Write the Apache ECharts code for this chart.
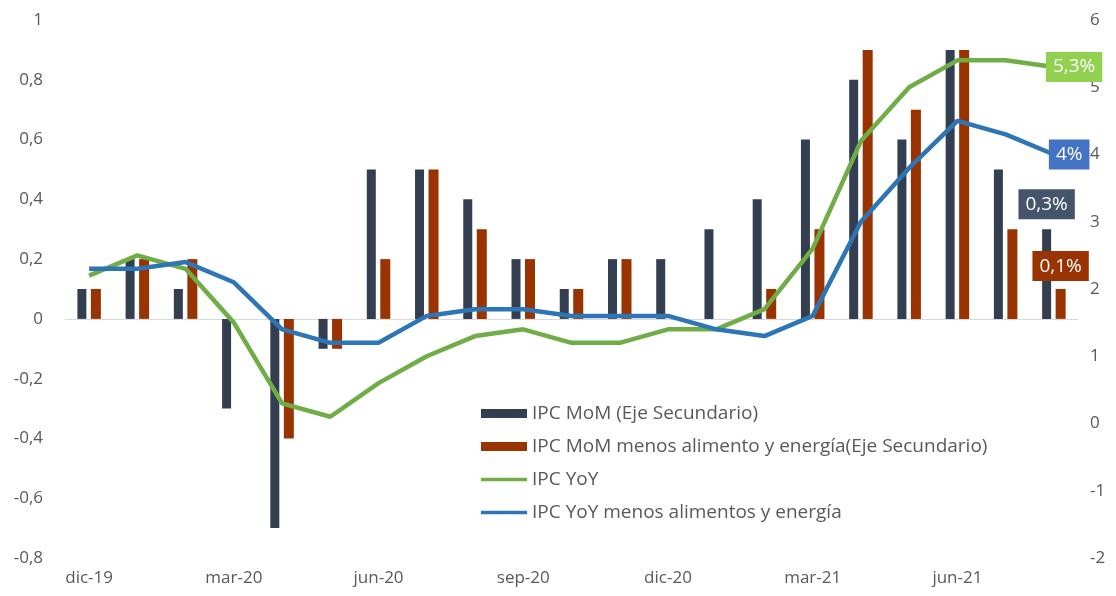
<!DOCTYPE html>
<html>
<head>
<meta charset="utf-8">
<script src="https://cdn.jsdelivr.net/npm/echarts@6/dist/echarts.min.js"></script>
<style>
  html, body { margin: 0; padding: 0; background: #fff; }
  #chart { width: 1116px; height: 596px; }
</style>
</head>
<body>
<div id="chart"></div>
<script>
// Monthly CPI, dic-19 .. ago-21
const months = [
  'dic-19', 'ene-20', 'feb-20', 'mar-20', 'abr-20', 'may-20', 'jun-20',
  'jul-20', 'ago-20', 'sep-20', 'oct-20', 'nov-20', 'dic-20', 'ene-21',
  'feb-21', 'mar-21', 'abr-21', 'may-21', 'jun-21', 'jul-21', 'ago-21',
];
const momTotal = [0.1, 0.2, 0.1, -0.3, -0.7, -0.1, 0.5, 0.5, 0.4, 0.2, 0.1, 0.2, 0.2, 0.3, 0.4, 0.6, 0.8, 0.6, 0.9, 0.5, 0.3];
const momCore = [0.1, 0.2, 0.2, 0, -0.4, -0.1, 0.2, 0.5, 0.3, 0.2, 0.1, 0.2, 0, 0, 0.1, 0.3, 0.9, 0.7, 0.9, 0.3, 0.1];
const yoyTotal = [2.2, 2.5, 2.3, 1.5, 0.3, 0.1, 0.6, 1.0, 1.3, 1.4, 1.2, 1.2, 1.4, 1.4, 1.7, 2.6, 4.2, 5.0, 5.4, 5.4, 5.3];
const yoyCore = [2.3, 2.3, 2.4, 2.1, 1.4, 1.2, 1.2, 1.6, 1.7, 1.7, 1.6, 1.6, 1.6, 1.4, 1.3, 1.6, 3.0, 3.8, 4.5, 4.3, 4.0];

const NAVY = '#333f50';
const RUST = '#993300';
const GREEN = '#70ad47';
const BLUE = '#2e75b6';
const TEXT = '#595959';
const FONT = '"Open Sans", sans-serif';
const LINE_ICON = 'path://M0,0H50V4H0Z';

const pct = (v) => String(v).replace('.', ',') + '%';

const boxStyle = (bg) => ({
  color: '#fff',
  backgroundColor: bg,
  padding: [6, 7, 5, 7],
  fontSize: 19,
  fontFamily: FONT,
});

// only the last bar of each bar series carries a boxed value label
function withEndLabel(values, bg, distance) {
  const label = { show: true, position: 'top', distance, formatter: (p) => pct(p.value), ...boxStyle(bg) };
  return values.map((v, i) => (i === values.length - 1 ? { value: v, label } : v));
}

const chart = echarts.init(document.getElementById('chart'), null, { renderer: 'canvas' });

chart.setOption({
  animation: false,
  backgroundColor: '#fff',
  textStyle: { fontFamily: FONT },
  grid: { left: 65, right: 38, top: 20, bottom: 38 },
  legend: {
    orient: 'vertical',
    left: 476,
    top: 399,
    itemGap: 14,
    itemWidth: 46,
    itemHeight: 9,
    textStyle: { color: TEXT, fontSize: 19, fontFamily: FONT },
    data: [
      { name: 'IPC MoM (Eje Secundario)', icon: 'rect' },
      { name: 'IPC MoM menos alimento y energía(Eje Secundario)', icon: 'rect' },
      { name: 'IPC YoY', icon: LINE_ICON },
      { name: 'IPC YoY menos alimentos y energía', icon: LINE_ICON },
    ],
  },
  xAxis: [
    {
      type: 'category',
      data: months,
      axisLine: { show: false },
      axisTick: { show: false },
      axisLabel: { interval: 2, color: TEXT, fontSize: 17, fontFamily: FONT, margin: 12 },
    },
    {
      // zero line with quarterly ticks, pinned to the left axis zero
      type: 'category',
      data: months,
      position: 'bottom',
      axisLine: { onZero: true, onZeroAxisIndex: 0, lineStyle: { color: '#d9d9d9', width: 1 } },
      axisTick: { interval: 2, length: 5, lineStyle: { color: '#d9d9d9' } },
      axisLabel: { show: false },
    },
  ],
  yAxis: [
    {
      type: 'value',
      min: -0.8,
      max: 1,
      interval: 0.2,
      splitLine: { show: false },
      axisLine: { show: false },
      axisTick: { show: false },
      axisLabel: {
        color: TEXT,
        fontSize: 17,
        fontFamily: FONT,
        margin: 22,
        formatter: (v) => {
          const r = Math.round(v * 10) / 10;
          if (r === 0) return '0';
          if (r === 1) return '1';
          return r.toFixed(1).replace('.', ',');
        },
      },
    },
    {
      type: 'value',
      min: -2,
      max: 6,
      interval: 1,
      splitLine: { show: false },
      axisLine: { show: false },
      axisTick: { show: false },
      axisLabel: { color: TEXT, fontSize: 17, fontFamily: FONT, margin: 12 },
    },
  ],
  series: [
    {
      name: 'IPC MoM (Eje Secundario)',
      type: 'bar',
      yAxisIndex: 0,
      barWidth: 9,
      barGap: '50%',
      itemStyle: { color: NAVY },
      data: withEndLabel(momTotal, '#44546a', 10),
    },
    {
      name: 'IPC MoM menos alimento y energía(Eje Secundario)',
      type: 'bar',
      yAxisIndex: 0,
      barWidth: 10,
      itemStyle: { color: RUST },
      data: withEndLabel(momCore, RUST, 8),
    },
    {
      name: 'IPC YoY',
      type: 'line',
      yAxisIndex: 1,
      symbol: 'none',
      z: 3,
      lineStyle: { color: GREEN, width: 4.5 },
      itemStyle: { color: GREEN },
      endLabel: { show: true, distance: -8, formatter: (p) => pct(p.value), ...boxStyle('#92d050') },
      data: yoyTotal,
    },
    {
      name: 'IPC YoY menos alimentos y energía',
      type: 'line',
      yAxisIndex: 1,
      symbol: 'none',
      z: 3,
      lineStyle: { color: BLUE, width: 4.5 },
      itemStyle: { color: BLUE },
      endLabel: { show: true, distance: -5, formatter: (p) => pct(p.value), ...boxStyle('#4472c4') },
      data: yoyCore,
    },
  ],
});
</script>
</body>
</html>
